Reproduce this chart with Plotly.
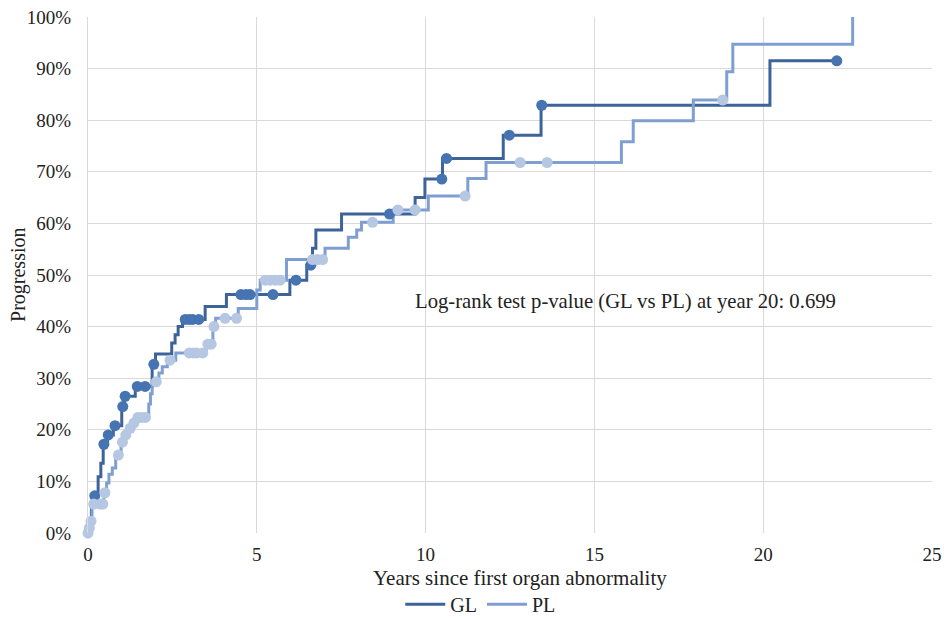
import bisect
import plotly.graph_objects as go

# Cumulative progression step curves: event times (years) and level reached (%)
gl_times = [0, 0.06, 0.10, 0.20, 0.30, 0.38, 0.45, 0.58, 0.75, 1.00, 1.08, 1.40,
            1.90, 2.00, 2.48, 2.58, 2.67, 2.80, 3.47, 4.10, 5.98, 6.48, 6.65,
            6.75, 7.51, 9.69, 9.98, 10.50, 12.30, 13.42, 20.20, 22.18]
gl_levels = [0, 2.2, 5.4, 7.2, 10.9, 13.5, 17.2, 19.0, 20.8, 24.5, 26.5, 28.4,
             32.7, 34.7, 36.8, 38.4, 40.0, 41.4, 43.9, 46.2, 49.0, 51.9, 55.2,
             58.7, 61.8, 65.0, 68.6, 72.6, 77.1, 82.9, 91.5, 91.5]

pl_times = [0, 0.03, 0.07, 0.12, 0.47, 0.55, 0.62, 0.72, 0.82, 0.98, 1.08, 1.20,
            1.32, 1.42, 1.80, 1.85, 1.90, 2.10, 2.20, 2.35, 2.60, 3.50, 3.70,
            3.78, 4.45, 5.00, 5.10, 5.88, 7.02, 7.71, 7.96, 8.10, 9.04, 10.08,
            11.25, 11.79, 15.80, 16.15, 17.93, 18.92, 19.10, 22.65]
pl_levels = [0, 1.0, 2.3, 5.6, 7.8, 9.7, 11.4, 12.6, 15.1, 17.6, 19.0, 20.3,
             21.3, 22.4, 25.0, 27.0, 29.3, 31.0, 32.2, 33.5, 34.9, 36.6, 40.0,
             41.6, 43.5, 47.1, 49.0, 53.0, 55.2, 57.3, 58.7, 60.2, 62.6, 65.3,
             68.7, 71.8, 75.8, 79.9, 83.9, 89.4, 94.7, 100.0]

# Censoring times (years)
gl_censored = [0.20, 0.47, 0.60, 0.80, 1.03, 1.10, 1.46, 1.69, 1.95, 2.88, 3.00,
               3.10, 3.28, 4.53, 4.68, 4.80, 5.48, 6.16, 6.60, 8.93, 10.48,
               10.62, 12.48, 13.44, 22.18]
pl_censored = [0.00, 0.04, 0.09, 0.17, 0.36, 0.44, 0.50, 0.90, 1.02, 1.12, 1.25,
               1.36, 1.48, 1.58, 1.70, 2.02, 2.43, 3.00, 3.12, 3.22, 3.40, 3.55,
               3.65, 3.73, 4.06, 4.40, 5.25, 5.40, 5.55, 5.69, 6.65, 6.80, 6.95,
               8.43, 9.18, 9.69, 11.17, 12.80, 13.60, 18.80]

x_ticks = [0, 5, 10, 15, 20, 25]
y_ticks = [0, 10, 20, 30, 40, 50, 60, 70, 80, 90, 100]

GL_LINE, GL_MARK = "#3d6399", "#4674b2"
PL_LINE, PL_MARK = "#7f9fd2", "#b5c7e2"
FONT = "Liberation Serif, Times New Roman, serif"


def level_at(times, levels, t):
    """Value of the step curve at time t."""
    i = bisect.bisect_right(times, t) - 1
    return levels[max(i, 0)]


fig = go.Figure()

fig.add_trace(go.Scatter(x=gl_times, y=[v / 100 for v in gl_levels], mode="lines",
                         line=dict(shape="hv", color=GL_LINE, width=3), name="GL"))
fig.add_trace(go.Scatter(x=pl_times, y=[v / 100 for v in pl_levels], mode="lines",
                         line=dict(shape="hv", color=PL_LINE, width=3), name="PL"))
fig.add_trace(go.Scatter(x=gl_censored,
                         y=[level_at(gl_times, gl_levels, t) / 100 for t in gl_censored],
                         mode="markers", marker=dict(size=11, color=GL_MARK),
                         showlegend=False, cliponaxis=False, hoverinfo="skip"))
fig.add_trace(go.Scatter(x=pl_censored,
                         y=[level_at(pl_times, pl_levels, t) / 100 for t in pl_censored],
                         mode="markers", marker=dict(size=11, color=PL_MARK),
                         showlegend=False, cliponaxis=False, hoverinfo="skip"))

fig.update_layout(
    width=944, height=619,
    margin=dict(l=88, r=12, t=17, b=86, autoexpand=False),
    paper_bgcolor="white", plot_bgcolor="white",
    font=dict(family=FONT, size=19, color="#222222"),
    xaxis=dict(range=[0, 25], tickvals=x_ticks, showgrid=True, gridcolor="#d9d9d9",
               gridwidth=1, zeroline=False, showline=False, ticks="outside",
               ticklen=4, tickcolor="rgba(0,0,0,0)", tickfont=dict(size=19),
               automargin=False),
    yaxis=dict(range=[0, 1], tickvals=[v / 100 for v in y_ticks], tickformat=".0%",
               showgrid=True, gridcolor="#d9d9d9", gridwidth=1, zeroline=False,
               showline=True, linecolor="#d9d9d9", linewidth=1, ticks="outside",
               ticklen=12, tickcolor="rgba(0,0,0,0)", tickfont=dict(size=19),
               automargin=False),
    legend=dict(orientation="h", x=0.37, xanchor="left", y=-0.138, yanchor="middle",
                font=dict(size=20), itemwidth=40, traceorder="normal"),
    showlegend=True,
    annotations=[
        dict(text="Log-rank test p-value (GL vs PL) at year 20: 0.699", x=9.64, y=0.448,
             xref="x", yref="y", xanchor="left", yanchor="middle", showarrow=False,
             font=dict(size=20.7)),
        dict(text="Years since first organ abnormality", x=0.512, y=-0.087,
             xref="paper", yref="paper", xanchor="center", yanchor="middle",
             showarrow=False, font=dict(size=21)),
        dict(text="Progression", x=-0.083, y=0.5, xref="paper", yref="paper",
             xanchor="center", yanchor="middle", textangle=-90, showarrow=False,
             font=dict(size=20)),
    ],
)

fig.write_html("out.html")
